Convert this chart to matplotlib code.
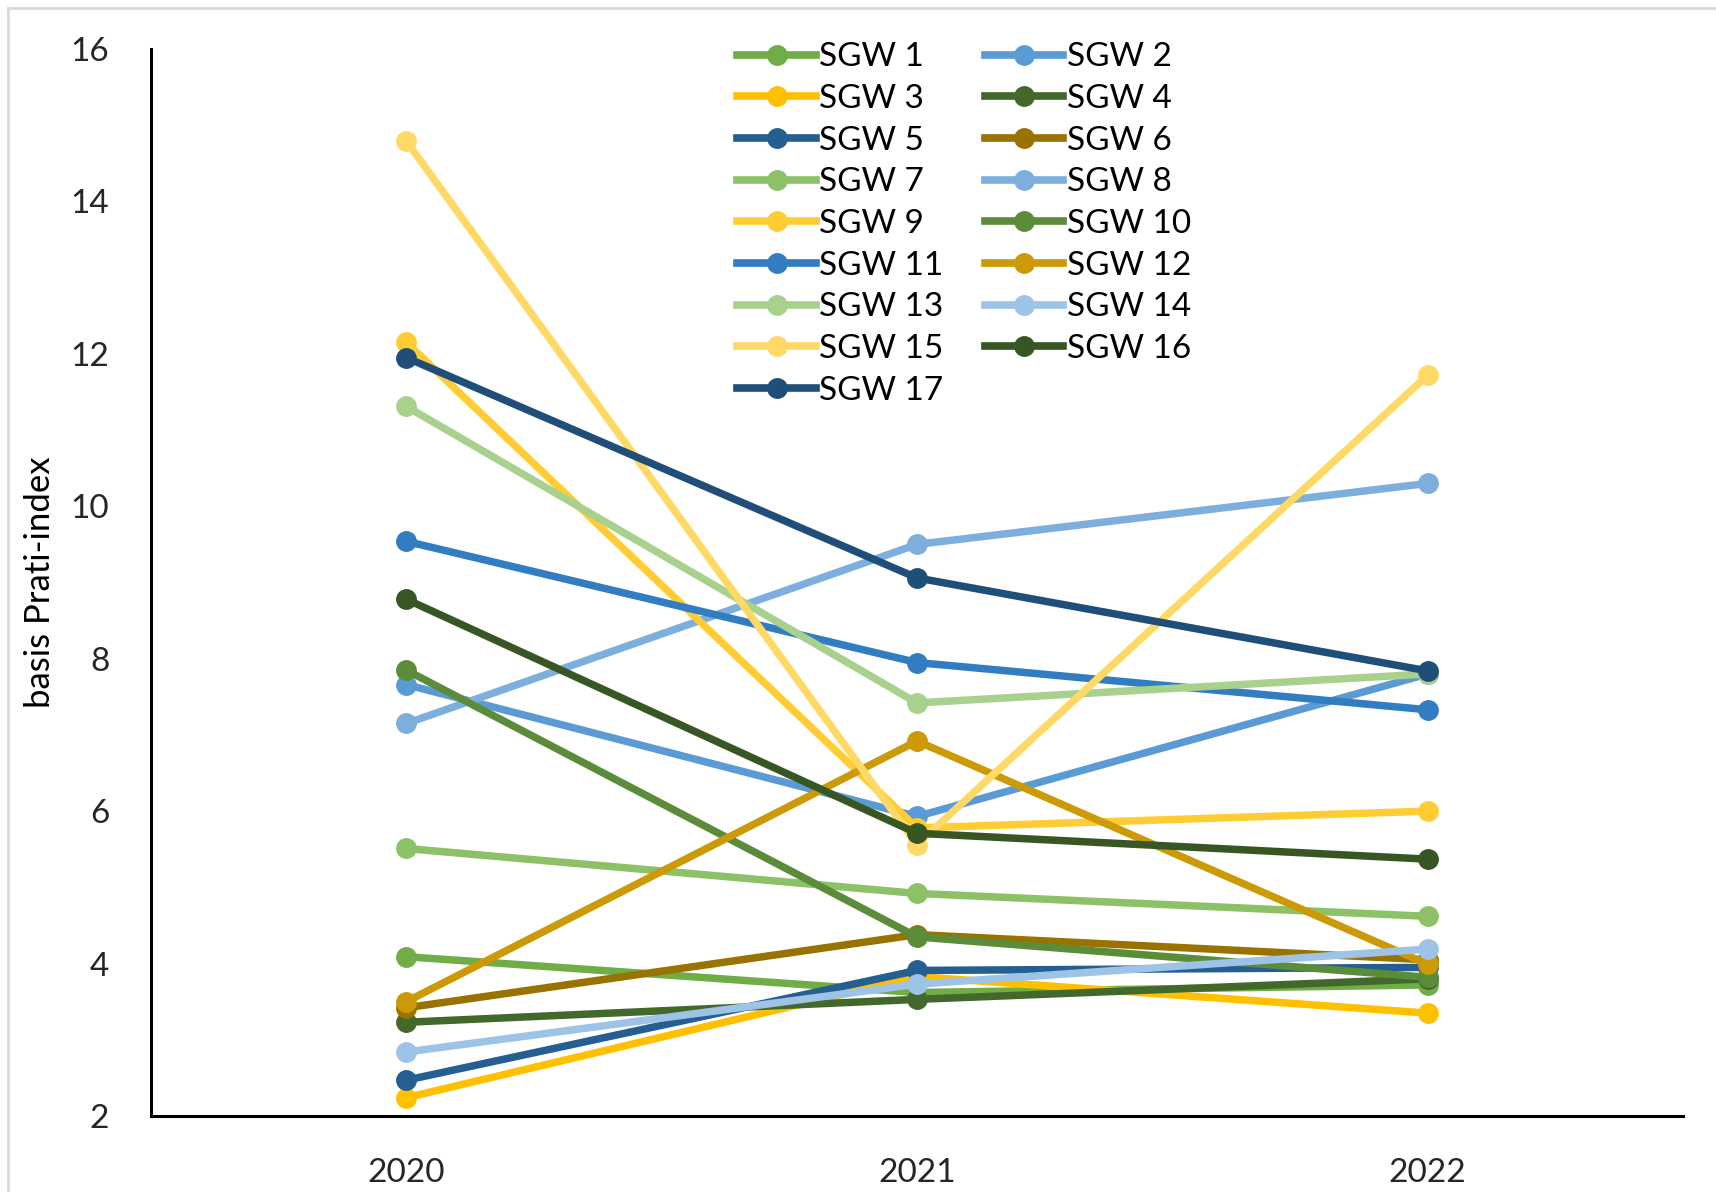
import matplotlib
matplotlib.use("Agg")
import matplotlib.pyplot as plt
from matplotlib.lines import Line2D

years = ["2020", "2021", "2022"]
series_names = [f"SGW {i}" for i in range(1, 18)]

sgw_values = {
    "SGW 1":  [4.09, 3.62, 3.72],
    "SGW 2":  [7.66, 5.93, 7.80],
    "SGW 3":  [2.24, 3.83, 3.35],
    "SGW 4":  [3.23, 3.53, 3.80],
    "SGW 5":  [2.47, 3.91, 3.95],
    "SGW 6":  [3.42, 4.38, 4.05],
    "SGW 7":  [5.51, 4.92, 4.62],
    "SGW 8":  [7.15, 9.50, 10.30],
    "SGW 9":  [12.15, 5.78, 6.00],
    "SGW 10": [7.85, 4.35, 3.82],
    "SGW 11": [9.54, 7.95, 7.33],
    "SGW 12": [3.50, 6.92, 3.99],
    "SGW 13": [11.31, 7.42, 7.80],
    "SGW 14": [2.84, 3.73, 4.19],
    "SGW 15": [14.79, 5.56, 11.72],
    "SGW 16": [8.78, 5.71, 5.37],
    "SGW 17": [11.95, 9.06, 7.84],
}

colors = [
    "#70AD47", "#5B9BD5", "#FFC000", "#43682B", "#255E91", "#997300",
    "#8CC168", "#7CAFDD", "#FFCD33", "#5B8C3A", "#327DC2", "#CC9A06",
    "#A9D18E", "#9DC3E6", "#FFD966", "#375623", "#1F4E79",
]

plt.rcParams["font.family"] = ["Lato", "DejaVu Sans"]

fig = plt.figure(figsize=(17.16, 11.92), dpi=100)
ax = fig.add_axes([151 / 1716, 1 - 1116 / 1192, 1532 / 1716, 1067 / 1192])

x = list(range(len(years)))
for name, col in zip(series_names, colors):
    ax.plot(x, sgw_values[name], color=col, lw=5.4, marker="o",
            markersize=14, solid_capstyle="round", label=name)

ax.set_xlim(-0.5, 2.5)
ax.set_ylim(2, 16)
ax.set_xticks(x)
ax.set_xticklabels(years)
ax.set_yticks(range(2, 17, 2))
ax.tick_params(axis="both", length=0, labelsize=24, colors="#262626")
ax.tick_params(axis="y", pad=30)
ax.tick_params(axis="x", pad=30)

for s in ("top", "right"):
    ax.spines[s].set_visible(False)
for s in ("left", "bottom"):
    ax.spines[s].set_linewidth(2.2)
    ax.spines[s].set_color("black")

ax.set_ylabel("basis Prati-index", fontsize=25)
ax.yaxis.set_label_coords(-0.062, 0.5)

# row-major legend order: odd series in the first column, even in the second
order = list(range(0, 17, 2)) + list(range(1, 17, 2))
leg_handles = [Line2D([0], [0], color=colors[i], lw=5.5, marker="o", markersize=14)
               for i in order]
leg_labels = [series_names[i] for i in order]
ax.legend(leg_handles, leg_labels, ncol=2, loc="upper left",
          bbox_to_anchor=((724 - 151) / 1532, 1.0 + 20 / 1067),
          frameon=False, fontsize=24, handlelength=2.35, handletextpad=0.1,
          labelspacing=0.35, columnspacing=1.25, borderaxespad=0)

# light frame around the chart area
fig.add_artist(Line2D([8 / 1716, 8 / 1716], [0, 1 - 8 / 1192],
                      transform=fig.transFigure, color="#D9D9D9", lw=2))
fig.add_artist(Line2D([8 / 1716, 1], [1 - 8 / 1192, 1 - 8 / 1192],
                      transform=fig.transFigure, color="#D9D9D9", lw=2))

fig.savefig("out.png", dpi=100)
